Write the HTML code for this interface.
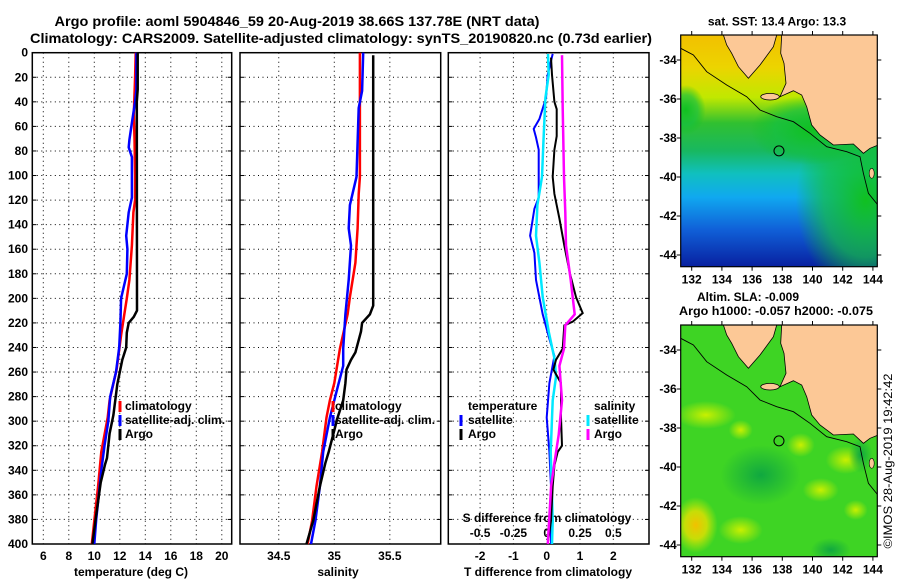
<!DOCTYPE html>
<html><head><meta charset="utf-8">
<style>
html,body{margin:0;padding:0;background:#fff;}
svg{display:block;font-family:"Liberation Sans",sans-serif;font-weight:bold;}
</style></head>
<body>
<svg id="chart" xmlns="http://www.w3.org/2000/svg" width="900" height="580" viewBox="0 0 900 580">
<defs>
<linearGradient id="sstGrad" x1="0" y1="0" x2="0" y2="1">
<stop offset="0" stop-color="#f2c000"/>
<stop offset="0.14" stop-color="#ecd400"/>
<stop offset="0.27" stop-color="#c0e800"/>
<stop offset="0.38" stop-color="#30c030"/>
<stop offset="0.5" stop-color="#18b860"/>
<stop offset="0.6" stop-color="#10c0c0"/>
<stop offset="0.7" stop-color="#10a8f0"/>
<stop offset="0.84" stop-color="#1060d8"/>
<stop offset="1" stop-color="#0820a0"/>
</linearGradient>
<radialGradient id="sstRight" cx="0.5" cy="0.5" r="0.5">
<stop offset="0" stop-color="#10c020"/>
<stop offset="0.6" stop-color="#14c040" stop-opacity="0.7"/>
<stop offset="1" stop-color="#10c020" stop-opacity="0"/>
</radialGradient>
<radialGradient id="blobY" cx="0.5" cy="0.5" r="0.5">
<stop offset="0" stop-color="#c8f000"/>
<stop offset="1" stop-color="#c8f000" stop-opacity="0"/>
</radialGradient>
<radialGradient id="blobO" cx="0.5" cy="0.5" r="0.5">
<stop offset="0" stop-color="#f2c000"/>
<stop offset="0.5" stop-color="#e8e000" stop-opacity="0.8"/>
<stop offset="1" stop-color="#c8f000" stop-opacity="0"/>
</radialGradient>
<radialGradient id="blobD" cx="0.5" cy="0.5" r="0.5">
<stop offset="0" stop-color="#10a840"/>
<stop offset="1" stop-color="#10a840" stop-opacity="0"/>
</radialGradient>
<clipPath id="clipMap"><rect x="0" y="0" width="196.6" height="231.7"/></clipPath>
</defs>
</svg>
<script>
// ---------- data ----------
const depthTicks=[0,20,40,60,80,100,120,140,160,180,200,220,240,260,280,300,320,340,360,380,400];
const tempTicks=[6,8,10,12,14,16,18,20];
const salTicks=[34.5,35,35.5];
const tdiffTicks=[-2,-1,0,1,2];
const sdiffTicks=[-0.5,-0.25,0,0.25,0.5];
const lonTicks=[132,134,136,138,140,142,144];
const latTicks=[-34,-36,-38,-40,-42,-44];

const tempArgoDepth=[0,30,40,210,215,220,228,240,250,270,295,310,330,335,350,380,400];
const tempArgo=[13.4,13.4,13.33,13.35,13.1,12.7,12.55,12.5,12.2,11.8,11.5,11.2,11.0,10.85,10.5,10.1,9.85];
const tempClimDepth=[0,20,50,70,100,120,130,157,185,200,210,230,258,283,297,325,353,381,400];
const tempClim=[13.25,13.2,13.1,13.15,13.2,13.2,13.07,12.95,12.75,12.55,12.4,12.1,11.75,11.2,11.05,10.55,10.3,10.0,9.8];
const tempSatDepth=[0,30,40,57,71,77,85,118,130,149,160,180,200,220,240,260,280,300,320,340,360,380,400];
const tempSat=[13.3,13.3,13.2,12.95,12.75,12.7,12.95,12.95,12.7,12.5,12.6,12.55,12.1,12.05,11.95,11.7,11.25,11.1,10.8,10.55,10.35,10.15,10.0];

const salArgoDepth=[2,206,213,220,227,244,250,258,269,283,297,325,334,353,381,400];
const salArgo=[35.35,35.35,35.32,35.25,35.24,35.19,35.15,35.11,35.1,35.08,35.03,34.95,34.92,34.87,34.81,34.75];
const salClimDepth=[0,101,115,143,171,199,213,241,269,283,297,325,353,381,400];
const salClim=[35.23,35.23,35.22,35.21,35.19,35.14,35.12,35.05,35.0,34.96,34.93,34.89,34.84,34.8,34.76];
const salSatDepth=[0,31,45,73,101,124,143,157,185,213,241,255,269,297,325,353,381,400];
const salSat=[35.26,35.25,35.22,35.21,35.2,35.14,35.13,35.15,35.13,35.1,35.08,35.08,35.04,34.96,34.9,34.87,34.83,34.79];

const dTArgoDepth=[4,18,40,46,68,79,101,115,135,157,180,199,212,219,222,241,250,258,269,297,320,325,336,353,381,400];
const dTArgo=[0.13,0.16,0.23,0.3,0.3,0.23,0.18,0.23,0.38,0.53,0.7,0.88,1.08,0.78,0.53,0.48,0.28,0.2,0.43,0.43,0.46,0.33,0.23,0.18,0.13,0.03];
const dTSatDepth=[1,18,37,54,62,69,79,101,118,127,149,163,185,213,233,247,269,297,325,353,400];
const dTSat=[0.18,0.03,-0.02,-0.22,-0.39,-0.32,-0.24,-0.24,-0.24,-0.37,-0.5,-0.37,-0.32,-0.12,0.08,0.23,0.08,0,0.08,0.13,0.13];
const dSSatDepth=[1,18,37,73,101,124,149,171,199,227,250,264,283,325,381,400];
const dSSat=[0.01,0.015,-0.01,-0.025,-0.035,-0.07,-0.08,-0.055,-0.03,0.015,0.06,0.07,0.045,0.03,0.045,0.04];
const dSArgoDepth=[2,45,101,130,157,185,213,222,241,255,283,311,334,353,400];
const dSArgo=[0.115,0.12,0.13,0.14,0.145,0.18,0.21,0.14,0.13,0.095,0.115,0.09,0.058,0.033,0.008];

// ---------- scales ----------
const yD=d=>52.7+d*1.22825;
const xT=t=>43.3+(t-6)*12.75;
const xS=s=>334.3+(s-35)*111.1;
const xD=v=>546.7+v*33.3;
const xSD=s=>xD(s*4);
const PT=52.7,PB=544;

const NS="http://www.w3.org/2000/svg";
const svg=document.getElementById('chart');
function mk(tag,attrs,parent){const e=document.createElementNS(NS,tag);for(const k in attrs)e.setAttribute(k,attrs[k]);(parent||svg).appendChild(e);return e;}
function txt(s,x,y,size,anchor,parent){const t=mk('text',{x:x,y:y,'font-size':size,'text-anchor':anchor||'middle','dominant-baseline':'central',fill:'#000'},parent);t.textContent=s;return t;}

svg.insertBefore(mk('rect',{x:0,y:0,width:900,height:580,fill:'#fff'}),svg.children[1]);

// titles
let t1=txt('Argo profile: aoml 5904846_59 20-Aug-2019 38.66S 137.78E (NRT data)',297,21,14);


let t2=txt('Climatology: CARS2009. Satellite-adjusted climatology: synTS_20190820.nc (0.73d earlier)',341,38,14);
t2.setAttribute('textLength','622');t2.setAttribute('lengthAdjust','spacingAndGlyphs');


t1.setAttribute('textLength','485');t1.setAttribute('lengthAdjust','spacingAndGlyphs');

function panel(name,x0,x1,vTicks,xf){
  const g=mk('g',{});
  
  
  depthTicks.forEach(d=>{
    if(d===0||d===400)return;
    const gl=mk('line',{x1:x0,x2:x1,y1:yD(d),y2:yD(d),stroke:'#000','stroke-width':1,'stroke-dasharray':'1,3.5'},g);
    
    
    mk('line',{x1:x0,x2:x0+4,y1:yD(d),y2:yD(d),stroke:'#000'},g);
    mk('line',{x1:x1-4,x2:x1,y1:yD(d),y2:yD(d),stroke:'#000'},g);
  });
  vTicks.forEach(v=>{
    const x=xf(v);
    const gl=mk('line',{x1:x,x2:x,y1:PT,y2:PB,stroke:'#000','stroke-width':1,'stroke-dasharray':'1,3.5'},g);
    
    
  });
  const fr=mk('rect',{x:x0,y:PT,width:x1-x0,height:PB-PT,fill:'none',stroke:'#000','stroke-width':1.5},g);
  
  
  return g;
}
function series(g,name,depths,vals,xf,color,w){
  const pts=depths.map((d,i)=>xf(vals[i]).toFixed(1)+','+yD(d).toFixed(1)).join(' ');
  const p=mk('polyline',{points:pts,fill:'none',stroke:color,'stroke-width':w,'stroke-linejoin':'miter'},g);
  
  
}
function legendEntry(g,name,label,mx,tx,cy,color){
  const e=mk('g',{},g);
  
  
  mk('rect',{x:mx-1.5,y:cy-5,width:3,height:11,fill:color},e);
  txt(label,tx,cy,12,'start',e);
}

// panel 1 temperature
const g1=panel('temperature-panel',32.3,231.7,tempTicks,xT);
depthTicks.forEach(d=>{const l=txt(String(d),28,yD(d),12,'end',g1);

});
tempTicks.forEach(v=>{const l=txt(String(v),xT(v),556,12,'middle',g1);

});
let a1=txt('temperature (deg C)',131,572,12,'middle',g1);


series(g1,'temp-climatology-line',tempClimDepth,tempClim,xT,'#ff0000',2.5);
series(g1,'temp-satellite-line',tempSatDepth,tempSat,xT,'#0000ff',2.5);
series(g1,'temp-argo-line',tempArgoDepth,tempArgo,xT,'#000',2.5);
legendEntry(g1,'legend-climatology','climatology',120,125,406,'#ff0000');
legendEntry(g1,'legend-satellite-adj','satellite-adj. clim.',120,125,420,'#0000ff');
legendEntry(g1,'legend-argo','Argo',120,125,434,'#000');

// panel 2 salinity
const g2=panel('salinity-panel',240,440.7,salTicks,xS);
salTicks.forEach(v=>{const l=txt(String(v),xS(v),556,12,'middle',g2);

});
let a2=txt('salinity',338,572,12,'middle',g2);


series(g2,'sal-climatology-line',salClimDepth,salClim,xS,'#ff0000',2.5);
series(g2,'sal-satellite-line',salSatDepth,salSat,xS,'#0000ff',2.5);
series(g2,'sal-argo-line',salArgoDepth,salArgo,xS,'#000',2.5);
legendEntry(g2,'legend-climatology-sal','climatology',333,335,406,'#ff0000');
legendEntry(g2,'legend-satellite-adj-sal','satellite-adj. clim.',333,335,420,'#0000ff');
legendEntry(g2,'legend-argo-sal','Argo',333,335,434,'#000');

// panel 3 differences
const g3=panel('difference-panel',448.3,649,tdiffTicks,xD);
tdiffTicks.forEach(v=>{const l=txt(String(v),xD(v),556,12,'middle',g3);

});
sdiffTicks.forEach(v=>{const l=txt(String(v),xSD(v),533,12,'middle',g3);

});
let a3=txt('T difference from climatology',548,572,12,'middle',g3);


let a4=txt('S difference from climatology',547,518,12,'middle',g3);


series(g3,'tdiff-satellite-line',dTSatDepth,dTSat,xD,'#0000ff',2);
series(g3,'sdiff-satellite-line',dSSatDepth,dSSat,xSD,'#00e8ff',2.5);
series(g3,'tdiff-argo-line',dTArgoDepth,dTArgo,xD,'#000',2);
series(g3,'sdiff-argo-line',dSArgoDepth,dSArgo,xSD,'#ff00ff',2.5);
let lt=txt('temperature',468,406,12,'start',g3);


legendEntry(g3,'legend-tdiff-satellite','satellite',461,468,420,'#0000ff');
legendEntry(g3,'legend-tdiff-argo','Argo',461,468,434,'#000');
let ls=txt('salinity',594,406,12,'start',g3);


legendEntry(g3,'legend-sdiff-satellite','satellite',588,594,420,'#00e8ff');
legendEntry(g3,'legend-sdiff-argo','Argo',588,594,434,'#ff00ff');

// ---------- maps ----------
const MW=196.6,MH=231.7;
const lonX=lon=>11+(lon-132)*15.1;
const latY=lat=>25+(-34-lat)*19.5;
const zl=p=>[(p[0]-62)/3,(p[1]-105)/3];
const landA=[[190,105],[200,135],[215,160],[235,200],[265,235],[300,195],[340,140],[350,105]];
const landB=[[365,105],[362,160],[372,190],[378,250],[360,290],[400,272],[425,285],[440,320],[455,375],[480,405],[520,435],[580,432],[610,460],[630,445],[655,435],[655,100]];
const shelf=[[62,145],[100,165],[140,215],[200,255],[260,290],[300,330],[350,350],[400,365],[450,400],[500,440],[560,455],[600,470],[610,520],[625,580],[655,617]];
const toPts=a=>a.map(p=>zl(p).map(v=>v.toFixed(1)).join(',')).join(' ');

function map(name,ox,oy,kind){
  const g=mk('g',{transform:'translate('+ox+','+oy+')'});
  
  
  const c=mk('g',{'clip-path':'url(#clipMap)'},g);
  if(kind==='sst'){
    mk('rect',{x:0,y:0,width:MW,height:MH,fill:'url(#sstGrad)'},c);
    mk('ellipse',{cx:185,cy:165,rx:70,ry:95,fill:'url(#sstRight)'},c);
    mk('ellipse',{cx:130,cy:95,rx:60,ry:35,fill:'url(#sstRight)'},c);
    mk('ellipse',{cx:5,cy:75,rx:20,ry:25,fill:'url(#sstRight)'},c);
  }else{
    mk('rect',{x:0,y:0,width:MW,height:MH,fill:'#3ed424'},c);
    [[25,90,30,14,'blobY'],[60,105,12,10,'blobY'],[15,200,22,28,'blobO'],[120,120,14,12,'blobY'],[165,135,20,14,'blobY'],[140,165,18,12,'blobY'],[60,205,22,14,'blobY'],[175,185,12,10,'blobY'],[80,150,40,30,'blobD'],[150,225,20,12,'blobD'],[180,130,12,18,'blobD']].forEach(b=>{
      mk('ellipse',{cx:b[0],cy:b[1],rx:b[2],ry:b[3],fill:'url(#'+b[4]+')'},c);
    });
  }
  mk('polygon',{points:toPts(landA),fill:'#fcc896',stroke:'#000','stroke-width':0.8},c);
  mk('polygon',{points:toPts(landB),fill:'#fcc896',stroke:'#000','stroke-width':0.8},c);
  mk('ellipse',{cx:zl([330,290])[0],cy:zl([330,290])[1],rx:9.3,ry:3.3,fill:'#fcc896',stroke:'#000','stroke-width':0.8},c);
  mk('ellipse',{cx:zl([635,520])[0],cy:zl([635,520])[1],rx:2.5,ry:5,fill:'#fcc896',stroke:'#000','stroke-width':0.6},c);
  const sl=mk('polyline',{points:toPts(shelf),fill:'none',stroke:'#000','stroke-width':0.9},c);
  
  
  const fl=mk('circle',{cx:lonX(137.78),cy:latY(-38.66),r:5,fill:'none',stroke:'#000','stroke-width':1},g);
  
  
  mk('rect',{x:0,y:0,width:MW,height:MH,fill:'none',stroke:'#000','stroke-width':1.2},g);
  lonTicks.forEach(v=>{
    mk('line',{x1:lonX(v),x2:lonX(v),y1:MH,y2:MH+4,stroke:'#000'},g);
    mk('line',{x1:lonX(v),x2:lonX(v),y1:0,y2:-4,stroke:'#000'},g);
    const l=txt(String(v),lonX(v),MH+13,12,'middle',g);
    
    
  });
  latTicks.forEach(v=>{
    mk('line',{x1:-4,x2:0,y1:latY(v),y2:latY(v),stroke:'#000'},g);
    mk('line',{x1:MW,x2:MW+4,y1:latY(v),y2:latY(v),stroke:'#000'},g);
    const l=txt(String(v),-4,latY(v),12,'end',g);
    
    
  });
}
map('sst-map',680.7,35,'sst');
map('sla-map',680.7,325,'sla');

let m1=txt('sat. SST: 13.4 Argo: 13.3',777,21.5,12);


let m2=txt('Altim. SLA: -0.009',748,297,12);


let m3=txt('Argo h1000: -0.057 h2000: -0.075',776,311,12);
m3.setAttribute('textLength','194');m3.setAttribute('lengthAdjust','spacingAndGlyphs');


let cp=txt('©IMOS 28-Aug-2019 19:42:42',0,0,12,'middle');
cp.setAttribute('font-weight','normal');
cp.setAttribute('transform','translate(888,461) rotate(-90)');
cp.setAttribute('textLength','175');cp.setAttribute('lengthAdjust','spacingAndGlyphs');


</script>
</body></html>
